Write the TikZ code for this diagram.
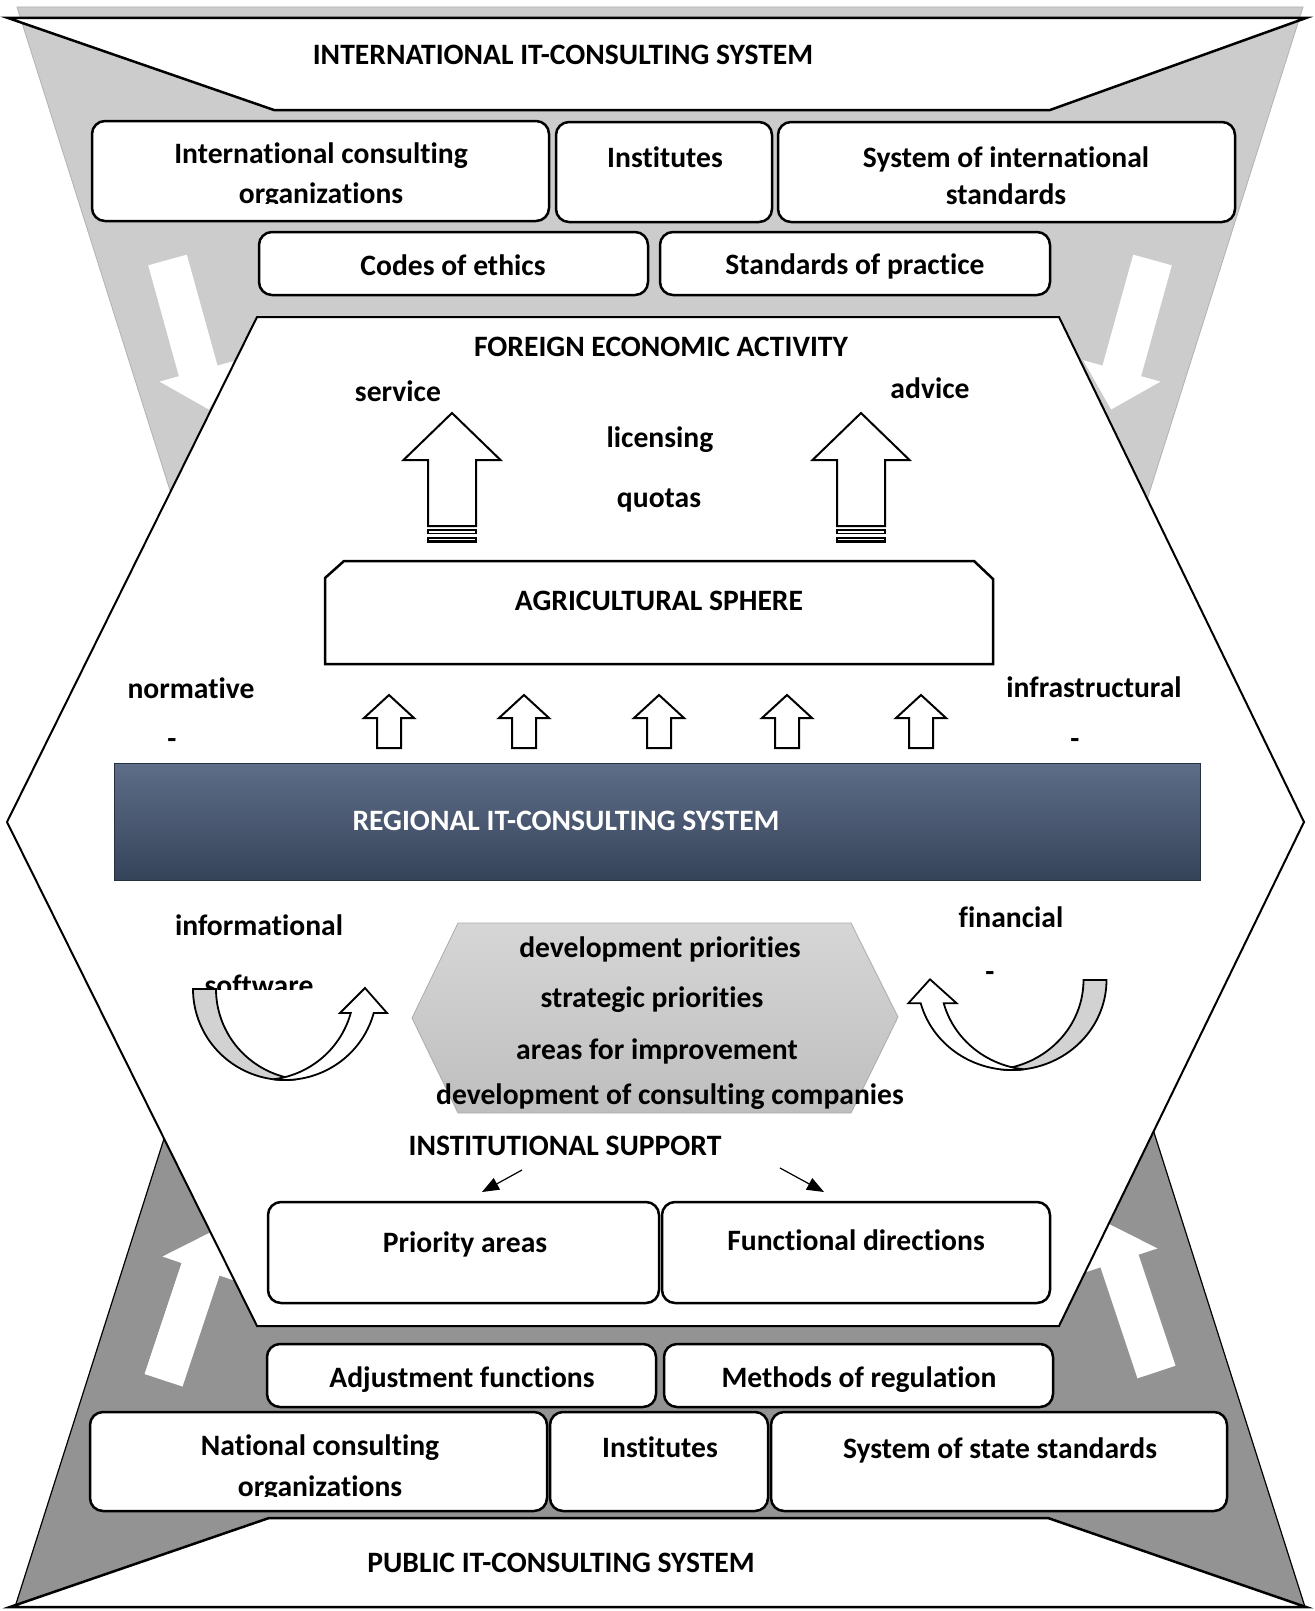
\documentclass[tikz,border=0pt]{standalone}
\usepackage{fontspec}
\setmainfont{Carlito}[Ligatures={NoCommon}]
\usetikzlibrary{arrows.meta}
\definecolor{topgray}{RGB}{204,204,204}
\definecolor{botgray}{RGB}{147,147,147}
\definecolor{backgray}{RGB}{210,210,210}
\definecolor{regtop}{RGB}{94,109,136}
\definecolor{regbot}{RGB}{54,68,90}
\definecolor{hextop}{RGB}{214,214,214}
\definecolor{hexbot}{RGB}{190,190,190}
\begin{document}
\begin{tikzpicture}[x=1pt,y=-1pt,
  box/.style={draw, line width=2.5pt, rounded corners=13pt, fill=white, inner sep=0pt},
  txt/.style={font=\bfseries\fontsize{29.6}{35}\selectfont, inner sep=0pt, anchor=base},
  whitearrow/.style={fill=white, draw=none},
  blockup/.style={draw, line width=2pt, fill=white, line join=miter},
  curvebk/.style={draw, line width=1.8pt, fill=backgray},
  curvefr/.style={draw, line width=1.8pt, fill=white},
  thinarrow/.style={line width=1.2pt, -{Triangle[length=17pt,width=13pt]}}]

% canvas
\fill[white] (0,0) rectangle (1314,1611);
\useasboundingbox (0,0) rectangle (1314,1611);

% gray trapezoids
\filldraw[fill=topgray, draw=gray!60, line width=0.8pt] (17,7) -- (1303,7) -- (1052,800) -- (268,800) -- cycle;
\filldraw[fill=botgray, draw=black, line width=1.2pt] (15,1607) -- (1305,1607) -- (1080,900) -- (240,900) -- cycle;

% white block arrows in the gray bands
\fill[whitearrow] (148.2,265.3) -- (186.8,254.7) -- (217.5,365.6) -- (236.8,360.2) -- (208.9,409.5) -- (159.6,381.6) -- (178.9,376.2) -- cycle;
\fill[whitearrow] (1171.8,265.3) -- (1133.2,254.7) -- (1102.5,365.6) -- (1083.2,360.2) -- (1111.1,409.5) -- (1160.4,381.6) -- (1141.1,376.2) -- cycle;
\fill[whitearrow] (1175.5,1365.7) -- (1137.5,1378.3) -- (1100.5,1267.3) -- (1081.5,1273.6) -- (1106.9,1223) -- (1157.5,1248.4) -- (1138.5,1254.7) -- cycle;
\fill[whitearrow] (144.5,1374) -- (182.5,1386.5) -- (219.5,1275.5) -- (238.5,1282) -- (213.1,1231) -- (162.5,1256.5) -- (181.5,1263) -- cycle;

% central hexagon
\filldraw[fill=white, draw=black, line width=2pt, line join=miter] (257,317) -- (1059,317) -- (1304,822) -- (1059,1326) -- (257,1326) -- (7,822) -- cycle;

% title bands
\filldraw[fill=white, draw=black, line width=2.5pt] (8,18) -- (1306,18) -- (1050,110) -- (274,110) -- cycle;
\filldraw[fill=white, draw=black, line width=2.5pt] (10,1607) -- (269,1518) -- (1048,1518) -- (1306,1607) -- cycle;
\node[txt] (intl) at (563,65) {INTERNATIONAL IT-CONSULTING SYSTEM};
\node[txt] (public) at (561,1572) {PUBLIC IT-CONSULTING SYSTEM};

% top boxes
\node[box, minimum width=457pt, minimum height=100pt] (intorg) at (320.5,171) {};
\node[box, minimum width=216pt, minimum height=100pt] (inst1) at (664,172) {};
\node[box, minimum width=457pt, minimum height=100pt] (sysint) at (1006.5,172) {};
\node[box, minimum width=389pt, minimum height=63pt] (codes) at (453.5,263.5) {};
\node[box, minimum width=390pt, minimum height=63pt] (stdprac) at (855,263.5) {};
\node[txt] (t-intorg1) at (321,163.5) {International consulting};
\begin{scope}
  \clip (95,180) rectangle (545,203.5);
  \node[txt] (t-intorg2) at (321,203.5) {organizations};
\end{scope}
\node[txt] (t-inst1) at (665,167) {Institutes};
\node[txt] (t-sysint1) at (1006,167) {System of international};
\node[txt] (t-sysint2) at (1006,204) {standards};
\node[txt] (t-codes) at (453,275) {Codes of ethics};
\node[txt] (t-stdprac) at (855,274) {Standards of practice};

% foreign economic activity
\node[txt] (fea) at (661,356) {FOREIGN ECONOMIC ACTIVITY};
\node[txt] (service) at (398,401) {service};
\node[txt] (advice) at (930,398) {advice};
\node[txt] (licensing) at (660,447) {licensing};
\node[txt] (quotas) at (659,507) {quotas};

% striped up arrows
\foreach \cx in {452,861}{
  \draw[blockup] ({\cx},413) -- ({\cx+48.5},460) -- ({\cx+24},460) -- ({\cx+24},526) -- ({\cx-24},526) -- ({\cx-24},460) -- ({\cx-48.5},460) -- cycle;
  \draw[line width=1.4pt] ({\cx-24},530) rectangle ({\cx+24},533.5);
  \fill[black] ({\cx-25},536.5) rectangle ({\cx+25},542.5);
  \draw[white, line width=0.8pt] ({\cx-23},539.5) -- ({\cx+23},539.5);
}

% agricultural sphere
\draw[line width=2.5pt, fill=white, line join=miter] (344,561) -- (974,561) -- (993,579) -- (993,664) -- (325,664) -- (325,578) -- cycle;
\node[txt] (agri) at (659,610) {AGRICULTURAL SPHERE};

% small up arrows
\foreach \cx in {389,524,659,787,921}{
  \draw[blockup] ({\cx},695) -- ({\cx+25},718) -- ({\cx+12},718) -- ({\cx+12},748) -- ({\cx-12},748) -- ({\cx-12},718) -- ({\cx-25},718) -- cycle;
}
\node[txt] (normative) at (191,698) {normative};
\node[txt] (infra) at (1094,697) {infrastructural};
\node[txt] (dash1) at (172,748) {-};
\node[txt] (dash2) at (1075,748) {-};

% regional bar
\node[draw=regbot!70!black, line width=1pt, top color=regtop, bottom color=regbot, minimum width=1086pt, minimum height=117pt, inner sep=0pt] (regbar) at (657,821.5) {};
\node[txt, text=white] (regional) at (566,830) {REGIONAL IT-CONSULTING SYSTEM};

% informational / financial
\node[txt] (informational) at (259,935) {informational};
\begin{scope}
  \clip (150,955) rectangle (380,989.3);
  \node[txt] (software) at (259,995.5) {software};
\end{scope}
\node[txt] (financial) at (1011,927) {financial};
\node[txt] (dash3) at (990,981) {-};

% left curved arrow
\path[curvebk] (193,989) -- plot[domain=180:82.8, samples=40, variable=\t] ({285+92*cos(\t)},{989+91*sin(\t)}) -- plot[domain=97.2:180, samples=40, variable=\t] ({308+92*cos(\t)},{989+91*sin(\t)}) -- cycle;
\path[curvefr] plot[domain=97.2:15.3, samples=40, variable=\t] ({285+92*cos(\t)},{989+91*sin(\t)}) -- (387,1013) -- (365,988) -- (340,1013) -- plot[domain=15.3:82.8, samples=40, variable=\t] ({262+92*cos(\t)},{989+91*sin(\t)}) -- cycle;

% right curved arrow
\path[curvebk] (1106.5,980) -- plot[domain=0:97, samples=40, variable=\t] ({1012+94.5*cos(\t)},{980+90*sin(\t)}) -- plot[domain=83:0, samples=40, variable=\t] ({989+94.5*cos(\t)},{980+90*sin(\t)}) -- cycle;
\path[curvefr] plot[domain=83:165, samples=40, variable=\t] ({1012+94.5*cos(\t)},{980+90*sin(\t)}) -- (908.3,1003.3) -- (930,979.3) -- (956.7,1003.3) -- plot[domain=165:97, samples=40, variable=\t] ({1035+94.5*cos(\t)},{980+90*sin(\t)}) -- cycle;

% gray priorities hexagon
\path[draw=gray!65, line width=0.8pt, top color=hextop, bottom color=hexbot] (412,1018) -- (458,923) -- (851,923) -- (898,1017) -- (851,1113) -- (458,1113) -- cycle;
\node[txt] (devprio) at (660,957) {development priorities};
\node[txt] (stratprio) at (652,1007) {strategic priorities};
\node[txt] (areas) at (657,1059) {areas for improvement};
\node[txt] (devcomp) at (670,1104) {development of consulting companies};

% institutional support
\node[txt] (instsup) at (565,1155) {INSTITUTIONAL SUPPORT};
\coordinate (isL1) at (522,1170);
\coordinate (isL2) at (482,1192);
\coordinate (isR1) at (780,1168);
\coordinate (isR2) at (824,1192);
\draw[thinarrow] (isL1) -- (isL2);
\draw[thinarrow] (isR1) -- (isR2);

% lower boxes
\node[box, minimum width=391pt, minimum height=101pt] (prio) at (463.5,1252.5) {};
\node[box, minimum width=388pt, minimum height=101pt] (func) at (856,1252.5) {};
\node[txt] (t-prio) at (465,1252) {Priority areas};
\node[txt] (t-func) at (856,1250) {Functional directions};

\node[box, minimum width=389pt, minimum height=63pt] (adjust) at (461.5,1375.5) {};
\node[box, minimum width=389pt, minimum height=63pt] (methods) at (858.5,1375.5) {};
\node[txt] (t-adjust) at (462,1387) {Adjustment functions};
\node[txt] (t-methods) at (859,1387) {Methods of regulation};

\node[box, minimum width=457pt, minimum height=99pt] (natorg) at (318.5,1461.5) {};
\node[box, minimum width=218pt, minimum height=99pt] (inst2) at (659,1461.5) {};
\node[box, minimum width=456pt, minimum height=99pt] (sysstate) at (999,1461.5) {};
\node[txt] (t-natorg1) at (320,1455) {National consulting};
\begin{scope}
  \clip (95,1470) rectangle (545,1496);
  \node[txt] (t-natorg2) at (320,1496.5) {organizations};
\end{scope}
\node[txt] (t-inst2) at (660,1457) {Institutes};
\node[txt] (t-sysstate) at (1000,1458) {System of state standards};

\end{tikzpicture}
\end{document}
